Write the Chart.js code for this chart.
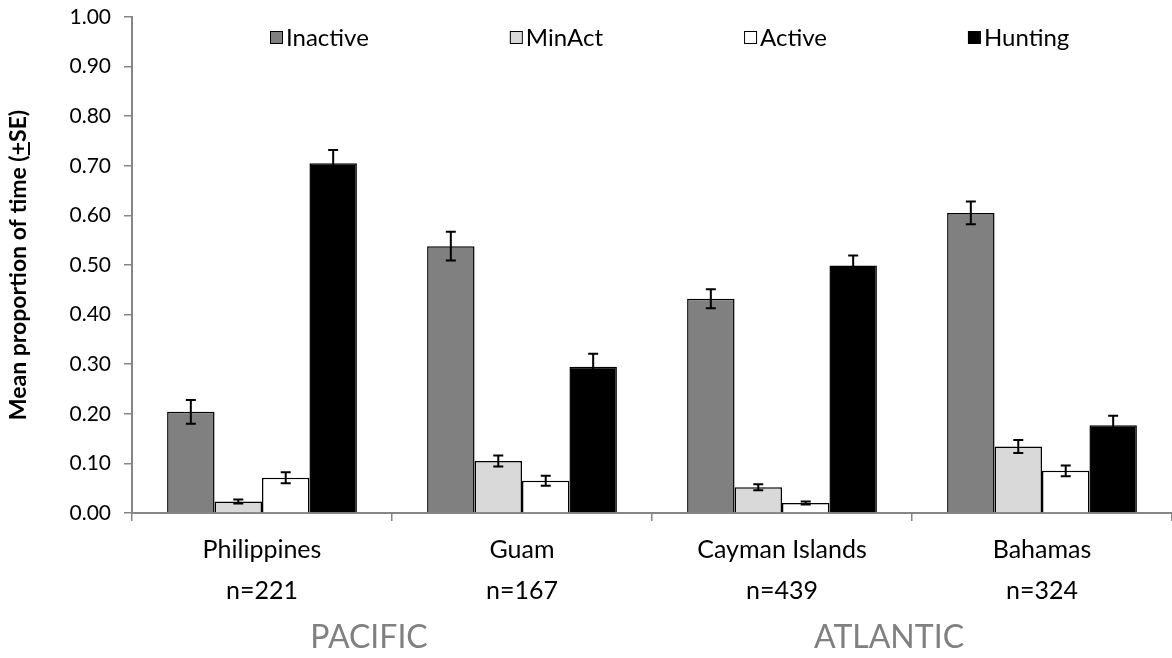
<!DOCTYPE html>
<html>
<head>
<meta charset="utf-8">
<script src="https://cdn.jsdelivr.net/npm/chart.js@4.4.1/dist/chart.umd.min.js"></script>
<style>
  html, body { margin: 0; padding: 0; background: #fff; }
  #wrap { position: relative; width: 1172px; height: 658px; }
</style>
</head>
<body>
<div id="wrap"><canvas id="chart"></canvas></div>
<script>
'use strict';

const categories = ['Philippines', 'Guam', 'Cayman Islands', 'Bahamas'];
const sampleSizes = ['n=221', 'n=167', 'n=439', 'n=324'];
const regions = ['PACIFIC', 'ATLANTIC'];

const inactive = [0.204, 0.538, 0.432, 0.605];
const minAct = [0.023, 0.105, 0.052, 0.134];
const active = [0.071, 0.065, 0.020, 0.085];
const hunting = [0.705, 0.295, 0.499, 0.177];

const inactiveSE = [0.024, 0.029, 0.019, 0.023];
const minActSE = [0.004, 0.011, 0.006, 0.013];
const activeSE = [0.011, 0.010, 0.003, 0.011];
const huntingSE = [0.027, 0.026, 0.020, 0.019];

const yTicks = [0, 0.1, 0.2, 0.3, 0.4, 0.5, 0.6, 0.7, 0.8, 0.9, 1.0];

const FONT = 'Lato, "Open Sans", sans-serif';
const AXIS_GREY = '#868686';

// error bars drawn from the same y scale as the bars
const errorBars = {
    id: 'errorBars',
    afterDatasetsDraw(chart) {
        const ctx = chart.ctx;
        const y = chart.scales.y;
        ctx.save();
        ctx.strokeStyle = '#000';
        ctx.lineWidth = 2;
        chart.data.datasets.forEach((ds, i) => {
            const meta = chart.getDatasetMeta(i);
            meta.data.forEach((bar, j) => {
                const v = ds.data[j];
                const se = ds.se[j];
                const top = y.getPixelForValue(v + se);
                const bot = y.getPixelForValue(v - se);
                ctx.beginPath();
                ctx.moveTo(bar.x, top);
                ctx.lineTo(bar.x, bot);
                ctx.moveTo(bar.x - 5, top);
                ctx.lineTo(bar.x + 5, top);
                ctx.moveTo(bar.x - 5, bot);
                ctx.lineTo(bar.x + 5, bot);
                ctx.stroke();
            });
        });
        ctx.restore();
    }
};

// legend, y title and region labels
const extras = {
    id: 'extras',
    afterDraw(chart) {
        const ctx = chart.ctx;
        const area = chart.chartArea;
        const x = chart.scales.x;
        ctx.save();

        // legend inside the plot, along the top
        ctx.font = '24px ' + FONT;
        ctx.textBaseline = 'middle';
        ctx.textAlign = 'left';
        let lx = area.left + 138;
        const ly = 37;
        chart.data.datasets.forEach((ds) => {
            ctx.fillStyle = ds.backgroundColor;
            ctx.fillRect(lx, ly - 6, 12, 12);
            ctx.strokeStyle = '#000';
            ctx.lineWidth = 1;
            ctx.strokeRect(lx + 0.5, ly - 5.5, 12, 12);
            ctx.fillStyle = '#000';
            ctx.fillText(ds.label, lx + 16, ly + 1);
            lx += 16 + ctx.measureText(ds.label).width + 141;
        });

        // y axis title with underlined plus
        ctx.font = 'bold 23px ' + FONT;
        const pre = 'Mean proportion of time (';
        const plus = '+';
        const post = 'SE)';
        const wPre = ctx.measureText(pre).width;
        const wPlus = ctx.measureText(plus).width;
        const wAll = ctx.measureText(pre + plus + post).width;
        ctx.translate(19, (area.top + area.bottom) / 2);
        ctx.rotate(-Math.PI / 2);
        ctx.textAlign = 'left';
        ctx.textBaseline = 'middle';
        ctx.fillStyle = '#000';
        ctx.fillText(pre + plus + post, -wAll / 2, 0);
        ctx.fillRect(-wAll / 2 + wPre, 9, wPlus, 2);
        ctx.setTransform(1, 0, 0, 1, 0, 0);

        // region labels under pairs of islands
        ctx.font = '32px ' + FONT;
        ctx.fillStyle = '#808080';
        ctx.textAlign = 'center';
        ctx.textBaseline = 'middle';
        regions.forEach((r, k) => {
            const cx = (x.getPixelForValue(2 * k) + x.getPixelForValue(2 * k + 1)) / 2 - 23;
            ctx.fillText(r, cx, 638);
        });
        ctx.restore();
    }
};

const seriesStyle = (label, values, se, colour) => ({
    label,
    data: values,
    se,
    backgroundColor: colour,
    borderColor: '#000',
    borderWidth: 1.5,
    categoryPercentage: 0.73,
    barPercentage: 1.0
});

new Chart(document.getElementById('chart'), {
    type: 'bar',
    data: {
        labels: categories.map((c, i) => [c, sampleSizes[i]]),
        datasets: [
            seriesStyle('Inactive', inactive, inactiveSE, '#808080'),
            seriesStyle('MinAct', minAct, minActSE, '#d9d9d9'),
            seriesStyle('Active', active, activeSE, '#ffffff'),
            seriesStyle('Hunting', hunting, huntingSE, '#000000')
        ]
    },
    options: {
        responsive: true,
        maintainAspectRatio: false,
        animation: false,
        layout: { padding: { top: 17, right: 0, bottom: 0, left: 0 } },
        plugins: {
            legend: { display: false },
            tooltip: { enabled: false }
        },
        scales: {
            x: {
                grid: {
                    display: true,
                    offset: true,
                    drawOnChartArea: false,
                    drawTicks: true,
                    tickLength: 8,
                    color: AXIS_GREY,
                    lineWidth: 1.5
                },
                border: { display: true, color: AXIS_GREY, width: 2 },
                ticks: {
                    color: '#000',
                    font: { family: FONT, size: 25, lineHeight: 1.65 },
                    padding: 8,
                    maxRotation: 0,
                    autoSkip: false
                },
                afterFit(scale) { scale.height = 145; }
            },
            y: {
                min: 0,
                max: 1,
                afterBuildTicks(scale) {
                    scale.ticks = yTicks.map((v) => ({ value: v }));
                },
                grid: {
                    display: true,
                    drawOnChartArea: false,
                    drawTicks: true,
                    tickLength: 8,
                    color: AXIS_GREY,
                    lineWidth: 1.5
                },
                border: { display: true, color: AXIS_GREY, width: 2 },
                ticks: {
                    color: '#000',
                    font: { family: FONT, size: 21 },
                    padding: 13,
                    callback: (v) => Number(v).toFixed(2)
                },
                afterFit(scale) {
                    scale.width = 132;
                    scale.paddingTop = 0;
                    scale.paddingBottom = 0;
                }
            }
        }
    },
    plugins: [errorBars, extras]
});
</script>
</body>
</html>
